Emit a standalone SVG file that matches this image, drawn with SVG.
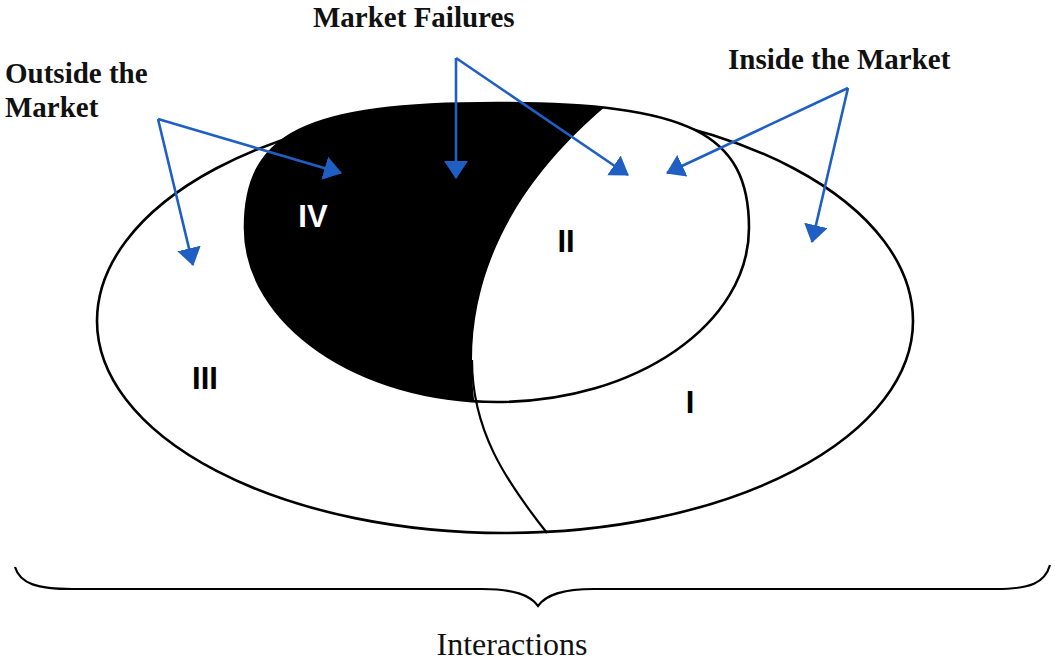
<svg xmlns="http://www.w3.org/2000/svg" width="1055" height="663" viewBox="0 0 1055 663">
  <style>
    .outline { fill: #ffffff; stroke: #000000; stroke-width: 2.6; }
    .line { fill: none; stroke: #000000; stroke-width: 2.2; }
    .title { font-family: "Liberation Serif", "Times New Roman", serif; font-weight: bold; font-size: 29px; fill: #111111; }
    .roman { font-family: "Liberation Sans", Arial, sans-serif; font-weight: bold; font-size: 31px; text-anchor: middle; }
    .caption { font-family: "Liberation Serif", "Times New Roman", serif; font-size: 32px; fill: #111111; text-anchor: middle; }
    .conn { fill: none; stroke: #1f5fc4; stroke-width: 2.6; marker-end: url(#head); }
  </style>
  <defs>
    <marker id="head" viewBox="0 0 18 24" refX="17" refY="12" markerWidth="18" markerHeight="24" markerUnits="userSpaceOnUse" orient="auto">
      <path d="M0,0 L18,12 L0,24 Z" fill="#1f5fc4"/>
    </marker>
    <clipPath id="smallClip">
      <path d="M245 228 C245 133 305.5 103 497 103 C688.5 103 749 133 749 228 C749 324 636 402 497 402 C358 402 245 324 245 228 Z"/>
    </clipPath>
  </defs>
  <rect width="1055" height="663" fill="#ffffff"/>

  <g id="interactions-ellipse">
    <path class="outline" d="M97 321 A408 216 0 0 1 913 321 A408 212 0 0 1 97 321 Z"/>
  </g>

  <g id="market-ellipse">
    <path class="outline" d="M245 228 C245 133 305.5 103 497 103 C688.5 103 749 133 749 228 C749 324 636 402 497 402 C358 402 245 324 245 228 Z"/>
  </g>

  <g id="region-IV">
    <path clip-path="url(#smallClip)" fill="#000000" d="M612 96 L606 106 C530 170 472 255 472 360 C472 380 473 395 476 412 L230 412 L230 90 L612 90 Z"/>
  </g>

  <g id="divider">
    <path class="line" d="M472 360 C472 430 505 480 547 533"/>
  </g>

  <g id="label-IV"><text class="roman" x="313" y="227" fill="#ffffff">IV</text></g>
  <g id="label-II"><text class="roman" x="566" y="252" fill="#000000">II</text></g>
  <g id="label-III"><text class="roman" x="205" y="389" fill="#000000">III</text></g>
  <g id="label-I"><text class="roman" x="690" y="413" fill="#000000">I</text></g>

  <g id="outside-label">
    <text class="title" x="5" y="83">Outside the</text>
    <text class="title" x="5" y="117">Market</text>
  </g>
  <g id="failures-label">
    <text class="title" x="313" y="27">Market Failures</text>
  </g>
  <g id="inside-label">
    <text class="title" x="728" y="69">Inside the Market</text>
  </g>

  <g id="brace">
    <path class="line" d="M15 567 C20 584 38 589 72 589 L482 589 C514 589 530 595 538 606 C546 595 562 589 594 589 L996 589 C1030 589 1045 583 1050 565"/>
  </g>
  <g id="caption">
    <text class="caption" x="512" y="655">Interactions</text>
  </g>

  <g id="connectors">
    <line class="conn" x1="158" y1="119" x2="341" y2="173"/>
    <line class="conn" x1="158" y1="119" x2="193" y2="265"/>
    <line class="conn" x1="456" y1="58" x2="456" y2="178"/>
    <line class="conn" x1="456" y1="58" x2="628" y2="175"/>
    <line class="conn" x1="848" y1="88" x2="667" y2="173"/>
    <line class="conn" x1="848" y1="88" x2="812" y2="242"/>
  </g>
</svg>
